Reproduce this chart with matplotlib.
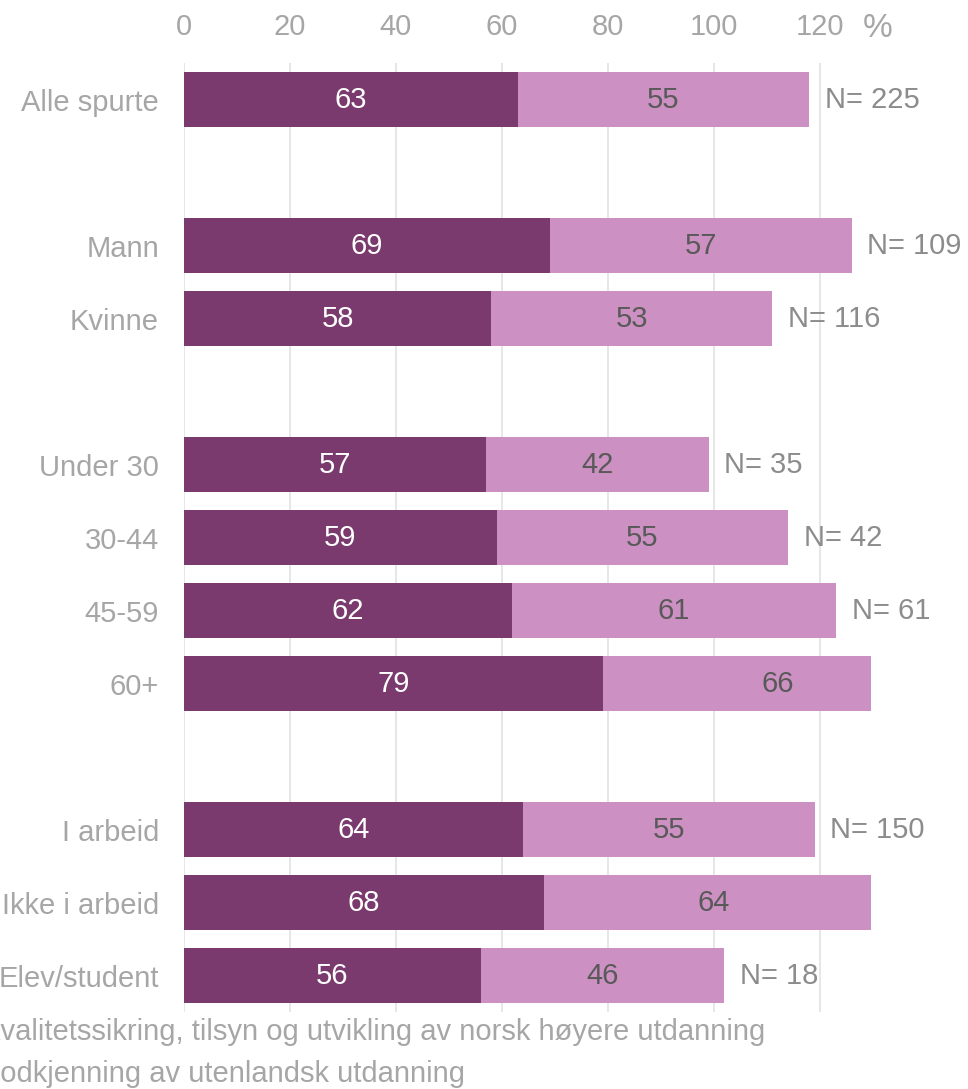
import matplotlib.pyplot as plt
import numpy as np

plt.rcParams["font.family"] = ["Liberation Sans", "DejaVu Sans"]

kategorier = ["Alle spurte", "Mann", "Kvinne", "Under 30", "30-44", "45-59", "60+",
              "I arbeid", "Ikke i arbeid", "Elev/student"]
rader = [0, 2, 3, 5, 6, 7, 8, 10, 11, 12]
kvalitet = [63, 69, 58, 57, 59, 62, 79, 64, 68, 56]
godkjenning = [55, 57, 53, 42, 55, 61, 66, 55, 64, 46]
antall = [225, 109, 116, 35, 42, 61, 87, 150, 57, 18]

serie_navn = ["kvalitetssikring, tilsyn og utvikling av norsk høyere utdanning",
              "godkjenning av utenlandsk utdanning"]

mork = "#7B3A6E"
lys = "#CC91C2"
gra = "#A6A6A6"
xmaks = 129.7

fig = plt.figure(figsize=(9.68, 10.89), dpi=100)
ax = fig.add_axes([0.190, 0.0707, 0.710, 0.8714])

y = np.array(rader)
k = np.array(kvalitet)
g = np.array(godkjenning)

ax.barh(y, k, height=0.76, color=mork, zorder=2)
ax.barh(y, g, left=k, height=0.76, color=lys, zorder=2)

for yi, a, b, n in zip(y, k, g, antall):
    ax.text(a / 2, yi, str(a), ha="center", va="center", color="white", fontsize=21)
    ax.text(a + b / 2, yi, str(b), ha="center", va="center", color="#595959", fontsize=21)
    # N-etiketten faller utenfor når stolpen er kuttet
    if a + b < xmaks:
        ax.text(a + b + 3, yi, f"N= {n}", ha="left", va="center", color="#8C8C8C",
                fontsize=21, clip_on=False)

ax.set_xlim(0, xmaks)
ax.set_ylim(12.5, -0.5)
ax.set_xticks(range(0, 121, 20))
ax.set_yticks(rader)
ax.set_yticklabels(kategorier)
ax.xaxis.tick_top()
ax.tick_params(axis="x", length=0, pad=16, labelsize=21, labelcolor=gra)
ax.tick_params(axis="y", length=0, pad=18, labelsize=21, labelcolor=gra)
for s in ax.spines.values():
    s.set_visible(False)
ax.grid(axis="x", color="#E3E3E3", linewidth=1.2, zorder=0)
ax.set_axisbelow(True)

fig.text(878 / 968, 1 - 37 / 1089, "%", ha="center", va="baseline", color=gra, fontsize=24)

fig.text(-14.5 / 968, 1 - 1040 / 1089, serie_navn[0], ha="left", va="baseline",
         color=gra, fontsize=21)
fig.text(-16 / 968, 1 - 1082 / 1089, serie_navn[1], ha="left", va="baseline",
         color=gra, fontsize=21)

fig.savefig("out.png", dpi=100)
